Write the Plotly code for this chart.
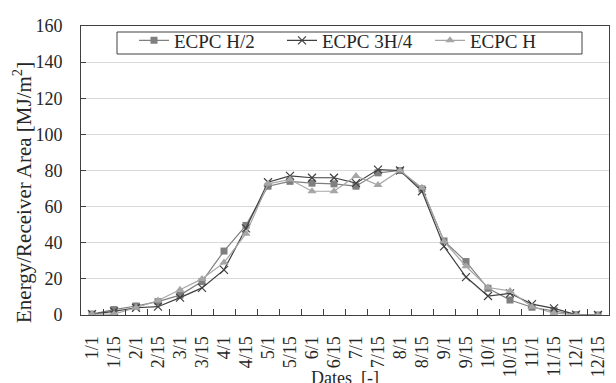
import plotly.graph_objects as go

# Half-month dates along the year
dates = ["1/1", "1/15", "2/1", "2/15", "3/1", "3/15", "4/1", "4/15", "5/1", "5/15",
         "6/1", "6/15", "7/1", "7/15", "8/1", "8/15", "9/1", "9/15", "10/1", "10/15",
         "11/1", "11/15", "12/1", "12/15"]

# Collected energy per receiver area [MJ/m2]
ecpc_h2 = [0.5, 3, 5, 7.4, 11, 18.5, 35.4, 49.6, 71.3, 74, 73, 72.6,
           71.3, 78.7, 80, 69.8, 41, 29.6, 14.8, 8.3, 4.3, 2.4, 0.2, 0]
ecpc_3h4 = [0.5, 2, 4, 4.6, 9.6, 15, 25, 48, 73.5, 77, 76, 76,
            73, 80.5, 80, 68.5, 38, 21, 10.5, 12, 6, 3.7, 0.2, 0]
ecpc_h = [0.5, 0.5, 4, 8, 14, 20, 29, 45, 72.6, 75, 68.5, 68.5,
          77, 72, 80, 70.4, 40.7, 27, 15.2, 13.3, 4.6, 1, 0.2, 0]

series_names = ["ECPC H/2", "ECPC 3H/4", "ECPC H"]

FONT = "Liberation Serif, Times New Roman, serif"
AXIS_COLOR = "#404040"
TEXT_COLOR = "#262626"

fig = go.Figure()

fig.add_trace(go.Scatter(
    x=dates, y=ecpc_h2, name=series_names[0], mode="lines+markers",
    line=dict(color="#7f7f7f", width=1.2),
    marker=dict(symbol="square", size=7, color="#7f7f7f"),
))
fig.add_trace(go.Scatter(
    x=dates, y=ecpc_3h4, name=series_names[1], mode="lines+markers",
    line=dict(color="#404040", width=1.2),
    marker=dict(symbol="x-thin", size=8, color="#404040",
                line=dict(color="#404040", width=1.2)),
))
fig.add_trace(go.Scatter(
    x=dates, y=ecpc_h, name=series_names[2], mode="lines+markers",
    line=dict(color="#a6a6a6", width=1.2),
    marker=dict(symbol="triangle-up", size=8, color="#a6a6a6"),
))

fig.update_layout(
    width=616, height=383,
    margin=dict(l=81, r=7, t=26, b=68, autoexpand=False),
    paper_bgcolor="white", plot_bgcolor="white",
    font=dict(family=FONT, size=18, color=TEXT_COLOR),
    showlegend=True,
    legend=dict(
        orientation="h", x=0.5 + 11 / 528, xanchor="center", y=0.95, yanchor="middle",
        borderwidth=0, bgcolor="rgba(0,0,0,0)",
        font=dict(family=FONT, size=19, color=TEXT_COLOR),
        itemwidth=30, entrywidth=103, entrywidthmode="pixels",
    ),
    # frame around the legend entries
    shapes=[dict(
        type="rect", xref="paper", yref="paper",
        x0=(117 - 81) / 528, x1=(582 - 81) / 528,
        y0=1 - (54 - 26) / 289, y1=1 - (32 - 26) / 289,
        line=dict(color=AXIS_COLOR, width=1), fillcolor="white", layer="above",
    )],
    annotations=[
        dict(text="Dates  [-]", xref="paper", yref="paper", x=0.5, y=-(378 - 315) / 289,
             xanchor="center", yanchor="middle", showarrow=False,
             font=dict(family=FONT, size=18, color=TEXT_COLOR)),
        dict(text="Energy/Receiver Area [MJ/m<sup>2</sup>]", xref="paper", yref="paper",
             x=-(81 - 22) / 528, y=1 - (193 - 26) / 289, textangle=-90,
             xanchor="center", yanchor="middle", showarrow=False,
             font=dict(family=FONT, size=21, color=TEXT_COLOR)),
    ],
)

fig.update_xaxes(
    type="category", categoryorder="array", categoryarray=dates,
    tickmode="array", tickvals=dates, ticktext=dates,
    range=[-0.5, len(dates) - 0.5],
    tickangle=-90, tickson="boundaries", ticks="inside", ticklen=6,
    tickcolor=AXIS_COLOR, showgrid=False, automargin=False,
    showline=True, linecolor=AXIS_COLOR, linewidth=1, mirror=True,
    ticklabelstandoff=13,
)

fig.update_yaxes(
    range=[0, 160], dtick=20, tick0=0,
    ticks="inside", ticklen=5, tickcolor=AXIS_COLOR, automargin=False,
    showgrid=True, gridcolor="#d9d9d9", gridwidth=1,
    showline=True, linecolor=AXIS_COLOR, linewidth=1, mirror=True,
    zeroline=False, ticklabelstandoff=14,
)

fig.write_html("out.html")
